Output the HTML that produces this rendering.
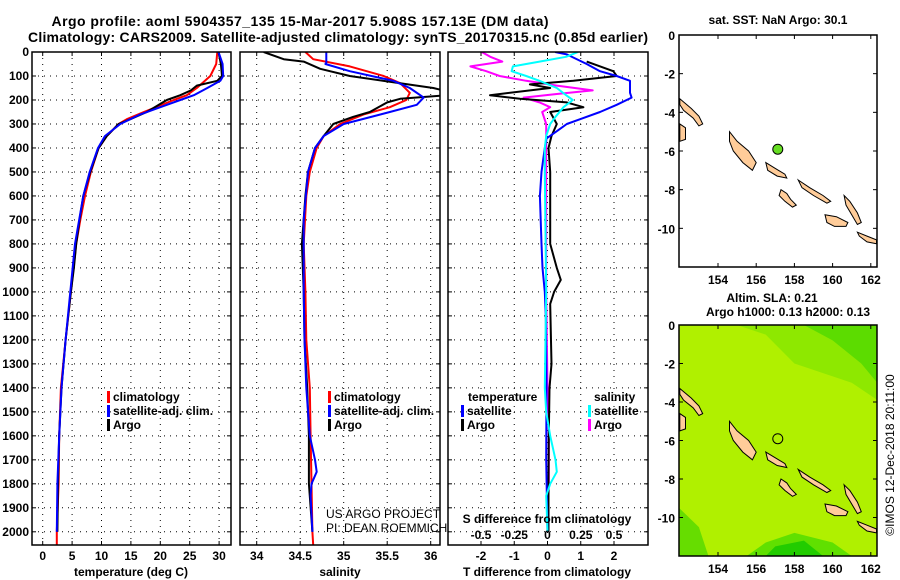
<!DOCTYPE html>
<html><head><meta charset="utf-8"><style>
body{margin:0;background:#fff;}
svg{display:block;font-family:"Liberation Sans",sans-serif;}
.b{font-weight:bold;font-size:12px;}
.n{font-weight:normal;font-size:12px;}
</style></head><body>
<svg id="c" width="900" height="580" viewBox="0 0 900 580" xmlns="http://www.w3.org/2000/svg">
<text x="300" y="26" class="b" style="font-size:14px" text-anchor="middle" textLength="497">Argo profile: aoml 5904357_135 15-Mar-2017 5.908S 157.13E (DM data)</text>
<text x="338" y="42" class="b" style="font-size:14px" text-anchor="middle" textLength="620">Climatology: CARS2009. Satellite-adjusted climatology: synTS_20170315.nc (0.85d earlier)</text>
<g id="g"></g>
</svg>
<script>
// ---- data ----
const depthTicks=[0,100,200,300,400,500,600,700,800,900,1000,1100,1200,1300,1400,1500,1600,1700,1800,1900,2000];
const tempTicks=[0,5,10,15,20,25,30];
const salTicks=[34,34.5,35,35.5,36];
const salTickLabels=["34","34.5","35","35.5","36"];
const tdiffTicks=[-2,-1,0,1,2];
const sdiffTickLabels=["-0.5","-0.25","0","0.25","0.5"];
const sdiffTicks=[-0.5,-0.25,0,0.25,0.5];
const lonTicks=[154,156,158,160,162];
const latTicks=[0,-2,-4,-6,-8,-10];

const tArgoD=[0,50,100,120,140,160,180,200,250,280,300,350,400,500,600,700,800,900,1000,1200,1400,1600,1800,2000];
const tArgoV=[29.9,30.3,30.5,29.7,26.2,25.2,23.4,21.1,17.7,14.9,12.9,10.9,9.5,8.1,6.9,6.25,5.7,5.3,4.8,3.9,3.2,2.8,2.6,2.5];
const tClimD=[0,50,100,150,180,200,250,280,300,350,400,500,600,700,800,1000,1200,1400,1600,1800,2000,2055];
const tClimV=[29.7,29.5,28.5,26.2,24.5,22.3,17.2,14.3,12.9,10.9,9.5,8.2,7.2,6.4,5.7,4.8,3.9,3.1,2.8,2.7,2.4,2.4];
const tSatD=[0,50,100,120,150,180,200,230,260,300,350,400,500,600,800,1000,1200,1400,1600,1800,2000];
const tSatV=[29.9,30.6,30.7,30.2,28,25.7,23.4,20,16.6,13.2,10.6,9.4,8,6.9,5.5,4.7,3.9,3.2,2.8,2.5,2.4];

const sArgoD=[0,30,40,70,100,130,150,165,180,195,210,250,270,300,350,400,500,600,800,1000,1200,1400,1600,1650,1800,2000];
const sArgoV=[34.08,34.31,34.54,34.73,35.07,35.65,36.03,36.2,36.2,35.65,35.5,35.3,35.11,34.88,34.77,34.67,34.59,34.56,34.52,34.54,34.55,34.58,34.6,34.6,34.6,34.64];
const sClimD=[0,30,60,100,130,170,200,230,260,300,350,400,500,600,800,1000,1200,1400,1600,1800,2000,2055];
const sClimV=[34.56,34.65,35.07,35.46,35.65,35.76,35.72,35.53,35.23,34.96,34.77,34.69,34.61,34.57,34.54,34.56,34.57,34.61,34.62,34.63,34.64,34.65];
const sSatD=[0,45,50,80,120,150,190,220,250,300,350,400,500,700,1000,1200,1400,1600,1650,1700,1750,1800,1850,2000];
const sSatV=[34.8,34.8,34.79,35.07,35.57,35.76,35.92,35.84,35.53,35.0,34.77,34.67,34.59,34.54,34.54,34.55,34.57,34.61,34.64,34.67,34.69,34.63,34.62,34.64];

const dtArgoD=[40,80,100,120,135,150,180,195,210,230,250,300,350,400,500,600,800,900,950,1000,1050,1300,1400,1600,1800,2000];
const dtArgoV=[1.18,1.98,2.08,0.78,-0.53,0.08,-1.73,-0.83,0.58,1.08,0.08,0.28,0.12,0.03,0.08,0.08,0.08,0.28,0.4,0.2,0.08,0.12,0.06,0.04,0.03,0.03];
const dtSatD=[0,10,50,80,100,120,150,170,190,220,250,280,300,330,360,400,500,600,800,900,1000,1100,1400,1700,2000];
const dtSatV=[0.23,0.58,1.18,1.58,2.08,2.48,2.48,2.48,2.53,2.08,1.58,0.98,0.58,0.28,-0.03,-0.08,-0.18,-0.23,-0.18,-0.15,-0.08,-0.05,-0.03,-0.04,0.0];
const dsArgoD=[0,20,40,60,80,100,120,140,160,175,190,210,230,250,300,400,500,1000,1400,1600,1800,2000];
const dsArgoV=[-0.495,-0.43,-0.34,-0.58,-0.46,-0.36,-0.16,0.07,0.34,0.07,-0.18,-0.06,0.02,-0.04,-0.01,-0.01,-0.01,-0.01,0,0.01,0.01,0];
const dsSatD=[0,20,40,60,80,100,120,150,180,200,230,270,300,350,400,500,1000,1400,1500,1600,1700,1750,1800,1850,2000];
const dsSatV=[0.23,0.14,-0.06,-0.26,-0.27,-0.16,-0.06,0.07,0.14,0.19,0.12,0.06,0.02,-0.01,-0.02,-0.02,-0.01,-0.02,-0.01,0.02,0.06,0.07,0.02,-0.01,0];

const floatLon=157.13, floatLat=-5.908;
const islands=[
 [[154.6,-5.0],[155.0,-5.5],[155.6,-6.0],[156.0,-6.6],[155.8,-7.0],[155.3,-6.6],[154.8,-6.0],[154.6,-5.5]],
 [[156.5,-6.6],[157.0,-6.9],[157.5,-7.2],[157.6,-7.4],[157.1,-7.3],[156.6,-7.0]],
 [[158.2,-7.5],[158.8,-7.9],[159.5,-8.3],[159.9,-8.6],[159.7,-8.7],[159.0,-8.3],[158.4,-7.9]],
 [[157.3,-8.0],[157.6,-8.2],[157.8,-8.5],[158.1,-8.8],[157.9,-8.9],[157.5,-8.6],[157.2,-8.3]],
 [[160.6,-8.3],[160.9,-8.6],[161.3,-9.2],[161.5,-9.7],[161.3,-9.8],[161.0,-9.3],[160.7,-8.8]],
 [[159.6,-9.3],[160.2,-9.4],[160.8,-9.7],[160.7,-9.9],[160.1,-9.9],[159.7,-9.7]],
 [[161.3,-10.2],[161.8,-10.4],[162.3,-10.6],[162.3,-10.8],[161.8,-10.7],[161.4,-10.4]],
 [[152.0,-3.3],[152.6,-3.8],[153.0,-4.2],[153.2,-4.6],[153.0,-4.7],[152.7,-4.3],[152.2,-3.9],[152.0,-3.6]],
 [[152.0,-4.6],[152.3,-4.8],[152.3,-5.4],[152.0,-5.5]]
];

// ---- drawing ----
const NS="http://www.w3.org/2000/svg";
const G=document.getElementById('g');
function mk(tag,at,parent){const e=document.createElementNS(NS,tag);for(const k in at)e.setAttribute(k,at[k]);(parent||G).appendChild(e);return e;}
function txt(x,y,s,anchor,cls,extra){const e=mk('text',Object.assign({x:x,y:y,'text-anchor':anchor||'start','class':cls||'b'},extra||{}));e.textContent=s;return e;}

const Y0=52, PY=0.2399, YB=545;
const yD=d=>Y0+PY*d;
const xT=v=>42.7+5.88*v;
const xS=v=>256.7+87*(v-34);
const xDT=v=>547.5+33.25*v;
const xDS=v=>547.5+133*v;

function frame(x0,x1,name){
  const r=mk('rect',{x:x0,y:Y0,width:x1-x0,height:YB-Y0,fill:'none',stroke:'#000','stroke-width':1.5});
  
  
}
function grid(x0,x1,xs){
  depthTicks.forEach(d=>{const l=mk('line',{x1:x0,x2:x1,y1:yD(d),y2:yD(d),stroke:'#000','stroke-dasharray':'1 5','stroke-width':1});});
  xs.forEach(x=>{const l=mk('line',{x1:x,x2:x,y1:Y0,y2:YB,stroke:'#000','stroke-dasharray':'1 5','stroke-width':1});});
  depthTicks.forEach(d=>{mk('line',{x1:x0,x2:x0+4,y1:yD(d),y2:yD(d),stroke:'#000'});mk('line',{x1:x1-4,x2:x1,y1:yD(d),y2:yD(d),stroke:'#000'});});
  xs.forEach(x=>{mk('line',{x1:x,x2:x,y1:YB-4,y2:YB,stroke:'#000'});mk('line',{x1:x,x2:x,y1:Y0,y2:Y0+4,stroke:'#000'});});
}
const clip=mk('clipPath',{id:'cp1'});mk('rect',{x:32,y:Y0,width:199,height:YB-Y0},clip);
const clip2=mk('clipPath',{id:'cp2'});mk('rect',{x:240,y:Y0,width:200,height:YB-Y0},clip2);
const clip3=mk('clipPath',{id:'cp3'});mk('rect',{x:448,y:Y0,width:200,height:YB-Y0},clip3);

depthTicks.forEach(d=>{const t=txt(29,yD(d)+4,String(d),'end');});

function lineIn(g,D,V,fx,color,name){const pts=D.map((d,i)=>fx(V[i]).toFixed(1)+','+yD(d).toFixed(1)).join(' ');const p=mk('polyline',{points:pts,fill:'none',stroke:color,'stroke-width':2,'stroke-linejoin':'round'},g);}

// panel 1
grid(32,231,tempTicks.map(xT));
const g1=mk('g',{'clip-path':'url(#cp1)'});


lineIn(g1,tClimD,tClimV,xT,'#ff0000','temperature-climatology-line');
lineIn(g1,tArgoD,tArgoV,xT,'#000','temperature-argo-line');
lineIn(g1,tSatD,tSatV,xT,'#0000ff','temperature-satellite-line');
frame(32,231,'temperature-frame');
tempTicks.forEach(v=>{const t=txt(xT(v),560,String(v),'middle');});
txt(131,576,'temperature (deg C)','middle');

// panel 2
grid(240,440,salTicks.map(xS));
const g2=mk('g',{'clip-path':'url(#cp2)'});


lineIn(g2,sClimD,sClimV,xS,'#ff0000','salinity-climatology-line');
lineIn(g2,sArgoD,sArgoV,xS,'#000','salinity-argo-line');
lineIn(g2,sSatD,sSatV,xS,'#0000ff','salinity-satellite-line');
frame(240,440,'salinity-frame');
salTicks.forEach((v,i)=>{const t=txt(xS(v),560,salTickLabels[i],'middle');});
txt(340,576,'salinity','middle');
txt(326,518,'US ARGO PROJECT','start','n');
txt(326,532,'PI: DEAN ROEMMICH','start','n');

// panel 3
grid(448,648,tdiffTicks.map(xDT));
const g3=mk('g',{'clip-path':'url(#cp3)'});


lineIn(g3,dsArgoD,dsArgoV,xDS,'#ff00ff','salinity-diff-argo-line');
lineIn(g3,dtArgoD,dtArgoV,xDT,'#000','temperature-diff-argo-line');
lineIn(g3,dtSatD,dtSatV,xDT,'#0000ff','temperature-diff-satellite-line');
lineIn(g3,dsSatD,dsSatV,xDS,'#00ffff','salinity-diff-satellite-line');
frame(448,648,'difference-frame');
tdiffTicks.forEach(v=>{const t=txt(xDT(v),560,String(v),'middle');});
sdiffTicks.forEach((v,i)=>{const t=txt(xDS(v),539,sdiffTickLabels[i],'middle');});
txt(547,523,'S difference from climatology','middle');
txt(547,576,'T difference from climatology','middle');

// legends
function leg(x,y,color,label,name){const r=mk('rect',{x:x,y:y-10,width:3,height:12,fill:color});const t=txt(x+6,y,label);}
leg(107,401,'#ff0000','climatology','legend-climatology');
leg(107,415,'#0000ff','satellite-adj. clim.','legend-satellite');
leg(107,429,'#000','Argo','legend-argo');
leg(328,401,'#ff0000','climatology','legend-sal-climatology');
leg(328,415,'#0000ff','satellite-adj. clim.','legend-sal-satellite');
leg(328,429,'#000','Argo','legend-sal-argo');
txt(468,401,'temperature');
txt(594,401,'salinity');
leg(461,415,'#0000ff','satellite','legend-tdiff-satellite');
leg(461,429,'#000','Argo','legend-tdiff-argo');
leg(588,415,'#00ffff','satellite','legend-sdiff-satellite');
leg(588,429,'#ff00ff','Argo','legend-sdiff-argo');

// maps
const MX0=679,MX1=877;
const lx=l=>718+(l-154)*19.1;
function map(top,bottom,name,bg){
  const ly=a=>top+(-a)*((bottom-top)/12);
  const g=mk('g',{});
  const cid='cl'+top;const c=mk('clipPath',{id:cid});mk('rect',{x:MX0,y:top,width:MX1-MX0,height:bottom-top},c);
  const inner=mk('g',{'clip-path':'url(#'+cid+')'},g);
  if(bg){
    mk('rect',{x:MX0,y:top,width:MX1-MX0,height:bottom-top,fill:'#b0f000'},inner);
    mk('path',{d:`M${lx(155)} ${top} L${lx(162.5)} ${top} L${lx(162.5)} ${ly(-4)} L${lx(161)} ${ly(-3)} L${lx(158)} ${ly(-2)} L${lx(156.5)} ${ly(-0.5)} Z`,fill:'#8ee800'},inner);
    mk('path',{d:`M${lx(158.5)} ${top} L${lx(162.5)} ${top} L${lx(162.5)} ${ly(-3.2)} L${lx(161.5)} ${ly(-2)} L${lx(160)} ${ly(-0.8)} Z`,fill:'#5cdc00'},inner);
    mk('path',{d:`M${lx(155.5)} ${bottom} L${lx(156.5)} ${ly(-11.3)} L${lx(158)} ${ly(-10.8)} L${lx(160)} ${ly(-11.3)} L${lx(161)} ${bottom} Z`,fill:'#60e000'},inner);
    mk('path',{d:`M${lx(156.5)} ${bottom} L${lx(157)} ${ly(-11.5)} L${lx(158.5)} ${ly(-11.2)} L${lx(159.5)} ${bottom} Z`,fill:'#22cc00'},inner);
    mk('path',{d:`M${MX0} ${ly(-9.5)} L${lx(153)} ${ly(-10.5)} L${lx(153.5)} ${bottom} L${MX0} ${bottom} Z`,fill:'#66dd00'},inner);
  }
  islands.forEach(poly=>{const p=mk('polygon',{points:poly.map(q=>lx(q[0]).toFixed(1)+','+ly(q[1]).toFixed(1)).join(' '),fill:'#ffcc99',stroke:'#000','stroke-width':1},inner);});
  const dot=mk('circle',{cx:lx(floatLon),cy:ly(floatLat),r:5,fill:bg?'none':'#66dd22',stroke:'#000','stroke-width':1},g);
  
  
  mk('rect',{x:MX0,y:top,width:MX1-MX0,height:bottom-top,fill:'none',stroke:'#000','stroke-width':1.5},g);
  lonTicks.forEach(l=>{mk('line',{x1:lx(l),x2:lx(l),y1:bottom-4,y2:bottom,stroke:'#000'},g);mk('line',{x1:lx(l),x2:lx(l),y1:top,y2:top+4,stroke:'#000'},g);const t=txt(lx(l),bottom+17,String(l),'middle');});
  latTicks.forEach(a=>{mk('line',{x1:MX0,x2:MX0+4,y1:ly(a),y2:ly(a),stroke:'#000'},g);mk('line',{x1:MX1-4,x2:MX1,y1:ly(a),y2:ly(a),stroke:'#000'},g);const t=txt(675,ly(a)+5,String(a),'end');});
}
map(35,267,'sst-map',false);
map(325,556,'sla-map',true);
txt(778,24,'sat. SST: NaN Argo: 30.1','middle');
txt(772,302,'Altim. SLA: 0.21','middle');
txt(788,316,'Argo h1000: 0.13 h2000: 0.13','middle');
const cr=txt(0,0,'©IMOS 12-Dec-2018 20:11:00','middle','n',{transform:'translate(894,455) rotate(-90)'});


</script>
</body></html>
